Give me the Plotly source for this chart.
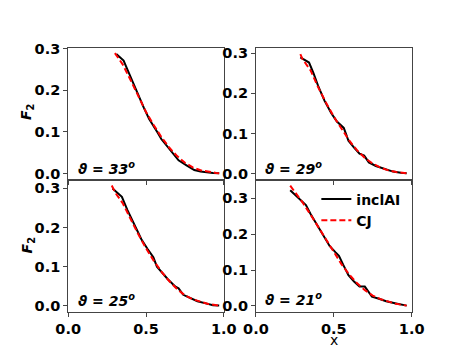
import plotly.graph_objects as go

# ---- data ----
angles = ["33", "29", "25", "21"]

x_incl_33 = [0.309, 0.356, 0.38, 0.406, 0.45, 0.487, 0.52, 0.558, 0.575, 0.598, 0.63, 0.659, 0.679, 0.709, 0.76, 0.81, 0.85, 0.891, 0.93, 0.97]
F_incl_33 = [0.287, 0.271, 0.250, 0.227, 0.190, 0.157, 0.131, 0.110, 0.098, 0.083, 0.068, 0.055, 0.044, 0.032, 0.020, 0.0087, 0.005, 0.003, 0.0015, 0.001]
x_cj_33 = [0.30, 0.35, 0.40, 0.45, 0.50, 0.55, 0.60, 0.65, 0.70, 0.75, 0.80, 0.85, 0.90, 0.95, 0.97]
F_cj_33 = [0.289, 0.262, 0.225, 0.185, 0.148, 0.116, 0.087, 0.062, 0.042, 0.026, 0.015, 0.008, 0.004, 0.0015, 0.001]

x_incl_29 = [0.285, 0.341, 0.37, 0.402, 0.44, 0.483, 0.52, 0.564, 0.58, 0.594, 0.63, 0.665, 0.695, 0.725, 0.77, 0.826, 0.88, 0.93, 0.968]
F_incl_29 = [0.290, 0.277, 0.250, 0.216, 0.182, 0.151, 0.130, 0.114, 0.097, 0.082, 0.065, 0.050, 0.045, 0.028, 0.019, 0.011, 0.005, 0.002, 0.001]
x_cj_29 = [0.285, 0.30, 0.35, 0.40, 0.45, 0.50, 0.55, 0.60, 0.65, 0.70, 0.75, 0.80, 0.85, 0.90, 0.968]
F_cj_29 = [0.298, 0.285, 0.258, 0.215, 0.177, 0.142, 0.112, 0.082, 0.058, 0.039, 0.025, 0.015, 0.008, 0.004, 0.001]

x_incl_25 = [0.285, 0.345, 0.38, 0.426, 0.47, 0.51, 0.547, 0.57, 0.598, 0.64, 0.689, 0.709, 0.739, 0.78, 0.83, 0.89, 0.93, 0.97]
F_incl_25 = [0.299, 0.278, 0.245, 0.2075, 0.170, 0.145, 0.124, 0.100, 0.087, 0.068, 0.049, 0.045, 0.0285, 0.021, 0.012, 0.006, 0.002, 0.001]
x_cj_25 = [0.28, 0.30, 0.35, 0.40, 0.45, 0.50, 0.55, 0.60, 0.65, 0.70, 0.75, 0.80, 0.85, 0.90, 0.97]
F_cj_25 = [0.307, 0.290, 0.262, 0.222, 0.183, 0.147, 0.115, 0.087, 0.063, 0.043, 0.027, 0.017, 0.010, 0.005, 0.001]

x_incl_21 = [0.22, 0.26, 0.321, 0.35, 0.392, 0.43, 0.473, 0.51, 0.533, 0.56, 0.594, 0.63, 0.665, 0.699, 0.72, 0.745, 0.79, 0.836, 0.90, 0.968]
F_incl_21 = [0.322, 0.306, 0.281, 0.257, 0.226, 0.197, 0.167, 0.150, 0.140, 0.115, 0.0856, 0.068, 0.054, 0.054, 0.040, 0.026, 0.020, 0.013, 0.007, 0.001]
x_cj_21 = [0.22, 0.25, 0.30, 0.35, 0.40, 0.45, 0.50, 0.55, 0.60, 0.65, 0.70, 0.75, 0.80, 0.85, 0.90, 0.968]
F_cj_21 = [0.335, 0.318, 0.288, 0.255, 0.220, 0.183, 0.149, 0.116, 0.087, 0.063, 0.044, 0.029, 0.019, 0.012, 0.006, 0.001]

y_tick_vals = [0.0, 0.1, 0.2, 0.3]
y_tick_text = ["0.0", "0.1", "0.2", "0.3"]
x_tick_vals = [0.0, 0.5, 1.0]
x_tick_text = ["0.0", "0.5", "1.0"]

series = [
    (x_incl_33, F_incl_33, x_cj_33, F_cj_33),
    (x_incl_29, F_incl_29, x_cj_29, F_cj_29),
    (x_incl_25, F_incl_25, x_cj_25, F_cj_25),
    (x_incl_21, F_incl_21, x_cj_21, F_cj_21),
]
y_ranges = [[-0.0143, 0.301], [-0.0149, 0.313], [-0.0154, 0.322], [-0.0168, 0.352]]

# page is offset by the default 8px body margin
OFF = 8
W, H = 469 - OFF, 352 - OFF


def px(p):
    return (p - OFF) / W


def py(p):
    return 1 - (p - OFF) / H


xdom = [[px(58), px(223)], [px(257), px(422)]]
ydom = [[py(177), py(42)], [py(313), py(177)]]

FONT = "DejaVu Sans"
fig = go.Figure()
layout = {}
for i in range(4):
    r, c = divmod(i, 2)
    n = "" if i == 0 else str(i + 1)
    xi, Fi, xc, Fc = series[i]
    fig.add_trace(go.Scatter(x=xi, y=Fi, mode="lines", name="<b>inclAI</b>",
                             line=dict(color="black", width=2),
                             xaxis="x" + n, yaxis="y" + n, showlegend=(i == 3)))
    fig.add_trace(go.Scatter(x=xc, y=Fc, mode="lines", name="<b>CJ</b>",
                             line=dict(color="red", width=2, dash="6px,3px"),
                             xaxis="x" + n, yaxis="y" + n, showlegend=(i == 3)))
    common = dict(showline=True, mirror=True, linecolor="#444", linewidth=1,
                  ticks="outside", ticklen=4, tickcolor="#444", showgrid=False,
                  zeroline=False, tickfont=dict(family=FONT, size=14.5, color="black"))
    layout["xaxis" + n] = dict(domain=xdom[c], range=[0, 1], anchor="y" + n,
                               tickvals=x_tick_vals, ticktext=["<b>%s</b>" % t for t in x_tick_text],
                               showticklabels=(r == 1), **common)
    layout["yaxis" + n] = dict(domain=ydom[r], range=y_ranges[i], anchor="x" + n,
                               tickvals=y_tick_vals, ticktext=["<b>%s</b>" % t for t in y_tick_text],
                               **common)

annotations = []
ann_pos = [(66, 165), (264, 165), (66, 301), (264, 300)]
for i, a in enumerate(angles):
    ax, ay = ann_pos[i]
    annotations.append(dict(x=px(ax), y=py(ay), xref="paper", yref="paper",
                            xanchor="left", yanchor="middle", showarrow=False,
                            text="<b><i>ϑ = %s<sup>o</sup></i></b>" % a,
                            font=dict(family=FONT, size=14, color="black")))
for ay in (108, 245):
    annotations.append(dict(x=px(15), y=py(ay), xref="paper", yref="paper",
                            xanchor="center", yanchor="middle", showarrow=False,
                            textangle=-90, text="<b><i>F</i><sub>2</sub></b>",
                            font=dict(family=FONT, size=14, color="black")))
annotations.append(dict(x=px(340), y=py(342), xref="paper", yref="paper",
                        xanchor="center", yanchor="middle", showarrow=False,
                        text="x", font=dict(family=FONT, size=14, color="black")))

fig.update_layout(
    width=W, height=H, margin=dict(l=0, r=0, t=0, b=0),
    paper_bgcolor="white", plot_bgcolor="white",
    showlegend=True,
    legend=dict(x=px(321), y=py(181), xanchor="left", yanchor="top",
                bgcolor="rgba(255,255,255,0)", borderwidth=0,
                font=dict(family=FONT, size=14, color="black"),
                itemwidth=30, tracegroupgap=0),
    annotations=annotations,
    **layout,
)
fig.write_html("out.html")
